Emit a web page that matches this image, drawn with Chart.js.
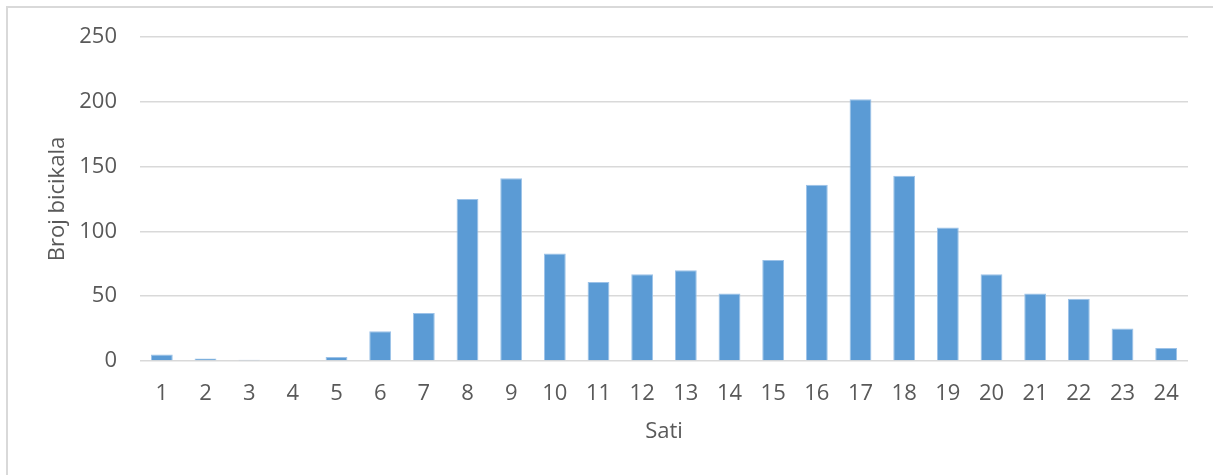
<!DOCTYPE html>
<html>
<head>
<meta charset="utf-8">
<script src="https://cdn.jsdelivr.net/npm/chart.js@4"></script>
<style>
  html, body { margin: 0; padding: 0; background: #fff; overflow: hidden; }
  #wrap { position: relative; width: 1213px; height: 475px; }
  #frame { position: absolute; left: 6px; top: 6px; width: 1220px; height: 480px;
           border: 2px solid #D9D9D9; box-sizing: border-box; }
  canvas { position: absolute; left: 0; top: 0; }
</style>
</head>
<body>
<div id="wrap">
  <div id="frame"></div>
  <canvas id="chart" width="1213" height="475"></canvas>
</div>
<script>
const sati = ['1','2','3','4','5','6','7','8','9','10','11','12',
              '13','14','15','16','17','18','19','20','21','22','23','24'];
const brojBicikala = [5, 2, 1, 0, 3, 23, 37, 125, 141, 83, 61, 67,
                      70, 52, 78, 136, 202, 143, 103, 67, 52, 48, 25, 10];
const yTicks = [0, 50, 100, 150, 200, 250];

const textColor = '#595959';
const fontFamily = "'Open Sans', 'Liberation Sans', sans-serif";

const data = {
  labels: sati,
  datasets: [
    {
      label: 'Broj bicikala',
      data: brojBicikala,
      backgroundColor: '#5B9BD5',
      borderColor: '#9CC2E8',
      borderWidth: 1,
      categoryPercentage: 0.5,
      barPercentage: 1.0,
    }
  ]
};

const config = {
  type: 'bar',
  data: data,
  options: {
    responsive: false,
    animation: false,
    layout: {
      padding: { left: 0, right: 25, top: 37, bottom: 0 }
    },
    plugins: {
      legend: { display: false },
      tooltip: { enabled: false }
    },
    scales: {
      x: {
        grid: { display: false },
        border: { display: false },
        ticks: {
          color: textColor,
          font: { family: fontFamily, size: 22 },
          padding: 12,
          maxRotation: 0,
          autoSkip: false
        },
        title: {
          display: true,
          text: 'Sati',
          color: textColor,
          font: { family: fontFamily, size: 22 },
          padding: { top: 0, bottom: 30 }
        },
        afterFit: (scale) => { scale.height = 114; }
      },
      y: {
        min: 0,
        max: 250,
        afterBuildTicks: (scale) => { scale.ticks = yTicks.map(v => ({ value: v })); },
        grid: { color: '#D9D9D9', lineWidth: 1.5, drawTicks: false },
        border: { display: false },
        ticks: {
          color: textColor,
          font: { family: fontFamily, size: 22 },
          padding: 23
        },
        title: {
          display: true,
          text: 'Broj bicikala',
          color: textColor,
          font: { family: fontFamily, size: 22 },
          padding: { top: 45, bottom: 0 }
        },
        afterFit: (scale) => { scale.width = 140; }
      }
    }
  }
};

const chart = new Chart(document.getElementById('chart'), config);
</script>
</body>
</html>
